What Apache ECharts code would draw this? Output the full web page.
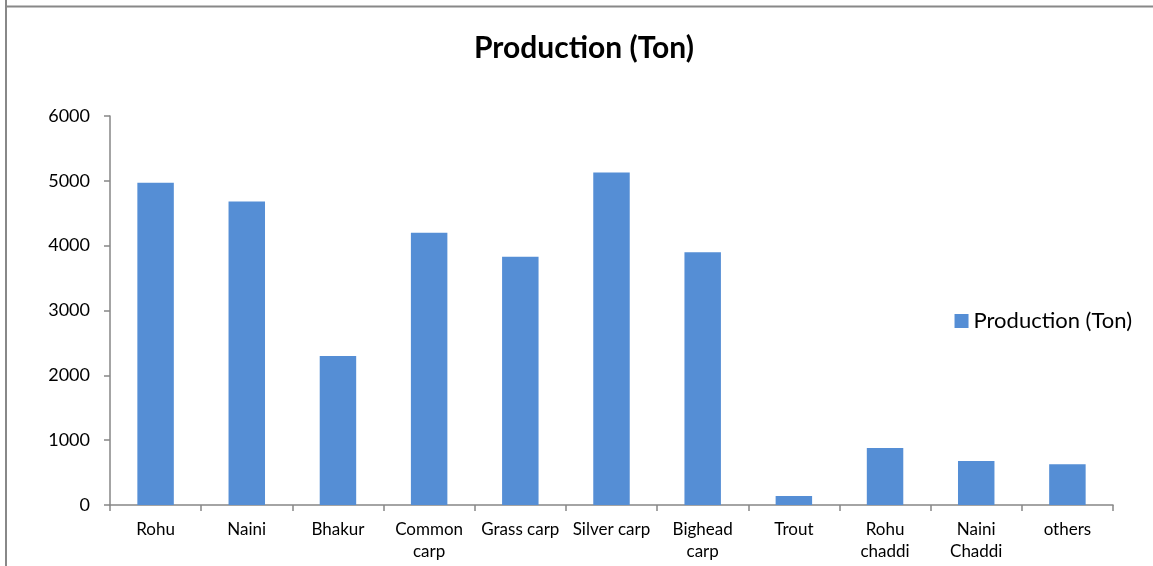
<!DOCTYPE html>
<html>
<head>
<meta charset="utf-8">
<script src="https://cdn.jsdelivr.net/npm/echarts@6/dist/echarts.min.js"></script>
<style>
html,body{margin:0;padding:0;background:#fff;}
#c{width:1153px;height:566px;}
</style>
</head>
<body>
<div id="c"></div>
<script>
const categories = ["Rohu","Naini","Bhakur","Common carp","Grass carp","Silver carp","Bighead carp","Trout","Rohu chaddi","Naini Chaddi","others"];
const production = [4970,4680,2300,4200,3830,5130,3900,140,880,680,630];
const yTicks = [0,1000,2000,3000,4000,5000,6000];
const seriesName = "Production (Ton)";
const wrapped = ["Common carp","Bighead carp","Rohu chaddi","Naini Chaddi"];

const chart = echarts.init(document.getElementById('c'));
const font = "Lato, 'Open Sans', sans-serif";
chart.setOption({
  animation:false,
  backgroundColor:'#fff',
  title:{text:seriesName,left:579,top:28,textAlign:'center',
    textStyle:{fontFamily:font,fontWeight:'bold',fontSize:30,color:'#000'}},
  legend:{right:16,top:305,orient:'vertical',itemWidth:14,itemHeight:14,itemGap:4,
    icon:'rect',textStyle:{fontFamily:font,fontSize:22,color:'#000'},data:[seriesName]},
  grid:{left:110,right:40,top:116,bottom:61,containLabel:false},
  graphic:[
    {type:'line',shape:{x1:6,y1:0,x2:6,y2:566},style:{stroke:'#888',lineWidth:2}},
    {type:'line',shape:{x1:5,y1:6.5,x2:1153,y2:6.5},style:{stroke:'#888',lineWidth:2}}
  ],
  xAxis:{type:'category',data:categories,
    axisLine:{lineStyle:{color:'#868686',width:1.5}},
    axisTick:{show:true,length:6,lineStyle:{color:'#868686',width:1.5}},
    axisLabel:{interval:0,margin:14,fontFamily:font,fontSize:17,color:'#000',lineHeight:22,
      formatter:function(v){return wrapped.indexOf(v)>=0? v.replace(' ','\n'):v;}}},
  yAxis:{type:'value',min:yTicks[0],max:yTicks[yTicks.length-1],interval:1000,
    splitLine:{show:false},
    axisLine:{show:true,lineStyle:{color:'#868686',width:1.5}},
    axisTick:{show:true,length:6,lineStyle:{color:'#868686',width:1.5}},
    axisLabel:{margin:20,fontFamily:font,fontSize:18,color:'#000',
      formatter:function(v){return String(v);}}},
  series:[{name:seriesName,type:'bar',data:production,barWidth:'40%',
    itemStyle:{color:'#558ed5'}}]
});
</script>
</body>
</html>
